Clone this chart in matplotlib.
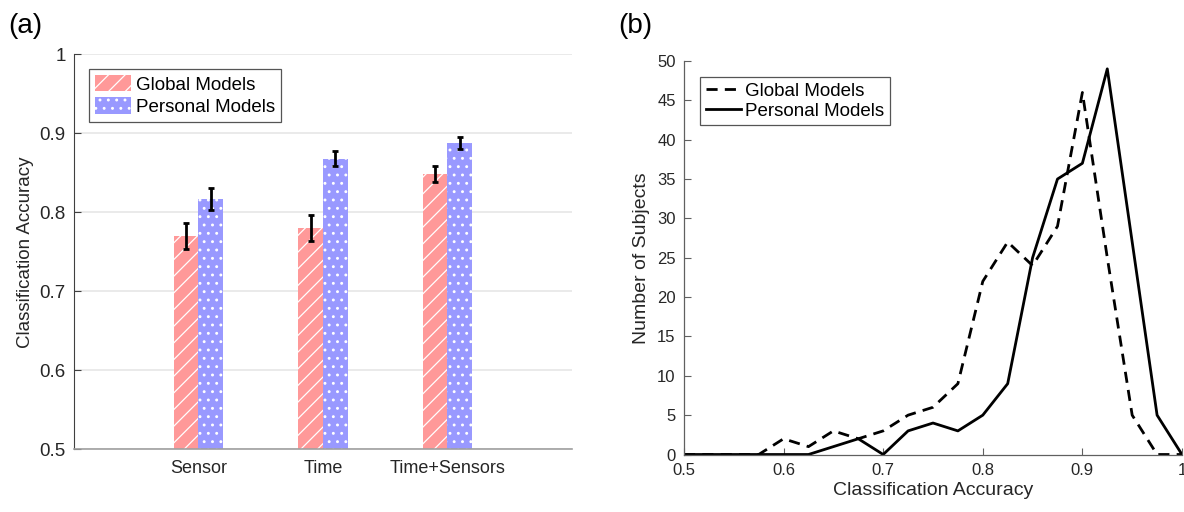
import numpy as np
import matplotlib
matplotlib.use('Agg')
from matplotlib import pyplot as plt

plt.rcParams['font.family'] = ['Liberation Sans', 'DejaVu Sans']
plt.rcParams['hatch.linewidth'] = 0.9

# (a) bar chart data
categories = ['Sensor', 'Time', 'Time+Sensors']
global_acc = [0.770, 0.780, 0.849]
global_err = [0.016, 0.016, 0.010]
personal_acc = [0.817, 0.868, 0.888]
personal_err = [0.014, 0.0095, 0.008]

# (b) distribution of subjects per accuracy bin
acc_bins = [0.5, 0.525, 0.55, 0.575, 0.6, 0.625, 0.65, 0.675, 0.7, 0.725, 0.75,
            0.775, 0.8, 0.825, 0.85, 0.875, 0.9, 0.925, 0.95, 0.975, 1.0]
global_counts = [0, 0, 0, 0, 2, 1, 3, 2, 3, 5, 6,
                 9, 22, 27, 24, 29, 46, 25, 5, 0, 0]
personal_counts = [0, 0, 0, 0, 0, 0, 1, 2, 0, 3, 4,
                   3, 5, 9, 25, 35, 37, 49, 27, 5, 0]

fig = plt.figure(figsize=(11.84, 5.12), dpi=100)

#---- panel (a)
axA = fig.add_axes([0.0625, 0.123, 0.4206, 0.7706])
x = np.arange(1, len(categories) + 1)
w = 0.2
axA.bar(x - w/2, global_acc, w, color='#ff9999', edgecolor='white',
        linewidth=0, hatch='//', label='Global Models', zorder=2)
axA.bar(x + w/2, personal_acc, w, color='#9999ff', edgecolor='white',
        linewidth=0, hatch='..', label='Personal Models', zorder=2)
axA.errorbar(x - w/2, global_acc, yerr=global_err, fmt='none', ecolor='black',
             elinewidth=2, capsize=2.5, capthick=2, zorder=3)
axA.errorbar(x + w/2, personal_acc, yerr=personal_err, fmt='none', ecolor='black',
             elinewidth=2, capsize=2.5, capthick=2, zorder=3)
axA.set_xlim(0, 4)
axA.set_ylim(0.5, 1.0)
axA.set_xticks(x)
axA.set_xticklabels(categories)
axA.set_yticks([0.5, 0.6, 0.7, 0.8, 0.9, 1.0])
axA.set_yticklabels(['0.5', '0.6', '0.7', '0.8', '0.9', '1'])
axA.yaxis.grid(True, color='#e6e6e6', linewidth=1.2, zorder=0)
axA.set_axisbelow(True)
for s in ['top', 'right']:
  axA.spines[s].set_visible(False)
axA.spines['left'].set_color('#404040')
axA.spines['bottom'].set_color('#a0a0a0')
axA.spines['bottom'].set_linewidth(1.2)
axA.tick_params(axis='x', length=0, pad=8, labelsize=13, colors='#262626')
axA.tick_params(axis='y', direction='in', length=5, color='#404040',
                labelsize=13.5, labelcolor='#262626', pad=6)
axA.set_ylabel('Classification Accuracy', fontsize=13.5, color='#262626', labelpad=4)
legA = axA.legend(loc='upper left', bbox_to_anchor=(0.030, 0.963), fontsize=13.5,
                  handlelength=1.95, handleheight=1.0, handletextpad=0.25,
                  labelspacing=0.2, borderpad=0.3, borderaxespad=0, fancybox=False,
                  edgecolor='#555555', framealpha=1)
legA.get_frame().set_linewidth(0.9)

#---- panel (b)
axB = fig.add_axes([0.5777, 0.1123, 0.4206, 0.7686])
axB.plot(acc_bins, global_counts, color='black', linewidth=2,
         linestyle=(0, (4, 2.6)), label='Global Models')
axB.plot(acc_bins, personal_counts, color='black', linewidth=2,
         linestyle='-', label='Personal Models')
axB.set_xlim(0.5, 1.0)
axB.set_ylim(0, 50)
axB.set_xticks([0.5, 0.6, 0.7, 0.8, 0.9, 1.0])
axB.set_xticklabels(['0.5', '0.6', '0.7', '0.8', '0.9', '1'])
axB.set_yticks(np.arange(0, 51, 5))
for s in ['top', 'right']:
  axB.spines[s].set_visible(False)
for s in ['left', 'bottom']:
  axB.spines[s].set_color('#606060')
  axB.spines[s].set_linewidth(0.9)
axB.tick_params(direction='in', length=5, color='#606060', labelsize=12,
                labelcolor='#262626')
axB.tick_params(axis='x', pad=6)
axB.tick_params(axis='y', pad=6)
axB.set_xlabel('Classification Accuracy', fontsize=14, color='#262626', labelpad=3)
axB.set_ylabel('Number of Subjects', fontsize=14, color='#262626', labelpad=5)
legB = axB.legend(loc='upper left', bbox_to_anchor=(0.032, 0.959), fontsize=13.5,
                  handlelength=1.9, handletextpad=0.2, labelspacing=0.15,
                  borderpad=0.3, borderaxespad=0, fancybox=False,
                  edgecolor='#555555', framealpha=1)
legB.get_frame().set_linewidth(0.9)

fig.text(0.021, 0.95, '(a)', fontsize=20, ha='center', va='center')
fig.text(0.537, 0.95, '(b)', fontsize=20, ha='center', va='center')

plt.savefig('out.png', dpi=100)
